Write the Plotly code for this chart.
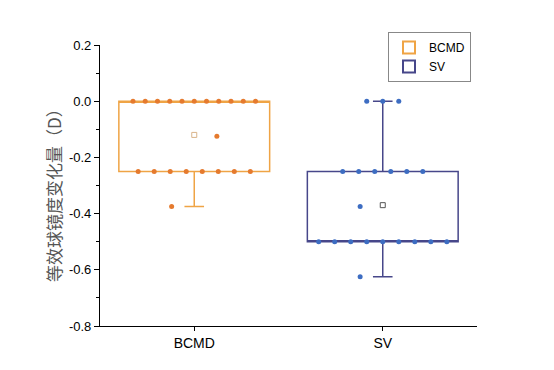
import plotly.graph_objects as go

# ---- data ----
groups = ["BCMD", "SV"]
bcmd_values = [0.0]*11 + [-0.125] + [-0.25]*8 + [-0.375]
sv_values = [0.0]*3 + [-0.25]*6 + [-0.375] + [-0.5]*9 + [-0.625]
values_by_group = [bcmd_values, sv_values]

q1 = [-0.25, -0.5]
median = [0.0, -0.5]
q3 = [0.0, -0.25]
lower_whisker = [-0.375, -0.625]
upper_whisker = [0.0, 0.0]
means = [-0.12, -0.37]

y_ticks = [0.2, 0.0, -0.2, -0.4, -0.6, -0.8]
y_title = "等效球镜度变化量（D）"

box_line_colors = ["#EFA445", "#47478A"]
point_colors = ["#E57A2E", "#3D6DC2"]
mean_colors = ["#D9B48A", "#555555"]

# page body has an 8px margin, so the figure is slightly smaller
W, H = 546, 362
ML, MT, PW, PH = 92, 37, 377, 281
fig = go.Figure()

for gi, name in enumerate(groups):
    fig.add_trace(go.Box(
        x=[gi], q1=[q1[gi]], median=[median[gi]], q3=[q3[gi]],
        lowerfence=[lower_whisker[gi]], upperfence=[upper_whisker[gi]],
        name=name, width=0.8, whiskerwidth=0.13,
        line=dict(color=box_line_colors[gi], width=1.5),
        fillcolor="rgba(255,255,255,0)", boxpoints=False,
        hoverinfo="skip", showlegend=True,
    ))

    # spread points with equal values across the box (deterministic)
    vals = values_by_group[gi]
    xs, ys = [], []
    single_flip = 1 if gi == 0 else -1
    uniq = []
    for v in vals:
        if v not in uniq:
            uniq.append(v)
    for v in uniq:
        n = vals.count(v)
        spacing = 0.065 if n > 9 else 0.085
        if n == 1:
            off = 0.12 * single_flip
            single_flip = -single_flip if gi == 0 else single_flip
            xs.append(gi + off)
            ys.append(v)
        else:
            for i in range(n):
                xs.append(gi + (i - (n - 1) / 2) * spacing)
                ys.append(v)
    fig.add_trace(go.Scatter(
        x=xs, y=ys, mode="markers",
        marker=dict(color=point_colors[gi], size=5),
        showlegend=False, hoverinfo="skip",
    ))
    fig.add_trace(go.Scatter(
        x=[gi], y=[means[gi]], mode="markers",
        marker=dict(symbol="square-open", color=mean_colors[gi], size=5,
                    line=dict(width=1)),
        showlegend=False, hoverinfo="skip",
    ))

fig.add_annotation(
    text=y_title, textangle=-90, xref="paper", yref="paper",
    x=(45 - ML) / PW, y=(MT + PH - 183) / PH, xanchor="center", yanchor="middle",
    showarrow=False, font=dict(family="Noto Sans CJK SC", size=17, color="#555555"),
)

fig.update_layout(
    width=W, height=H,
    margin=dict(l=ML, r=W - ML - PW, t=MT, b=H - MT - PH, autoexpand=False),
    paper_bgcolor="white", plot_bgcolor="white",
    font=dict(family="Liberation Sans, Arial, sans-serif", size=13, color="black"),
    showlegend=True,
    legend=dict(
        xref="container", yref="container",
        x=380 / W, y=1 - 24 / H, xanchor="left", yanchor="top",
        bgcolor="white", bordercolor="#888888", borderwidth=1,
        font=dict(size=12), tracegroupgap=0, itemsizing="constant",
    ),
    xaxis=dict(
        range=[-0.5, 1.5], tickvals=[0, 1], ticktext=groups,
        showline=True, linecolor="black", linewidth=1.2,
        ticks="outside", ticklen=4, tickcolor="black",
        tickfont=dict(size=14),
        showgrid=False, zeroline=False,
    ),
    yaxis=dict(
        range=[-0.8, 0.2], tickvals=y_ticks,
        ticktext=[f"{v:.1f}" for v in y_ticks],
        showline=True, linecolor="black", linewidth=1.2,
        ticks="outside", ticklen=5, tickcolor="black",
        minor=dict(ticks="outside", ticklen=3, dtick=0.1, tickcolor="black"),
        showgrid=False, zeroline=False,
    ),
)

fig.write_html("out.html")
